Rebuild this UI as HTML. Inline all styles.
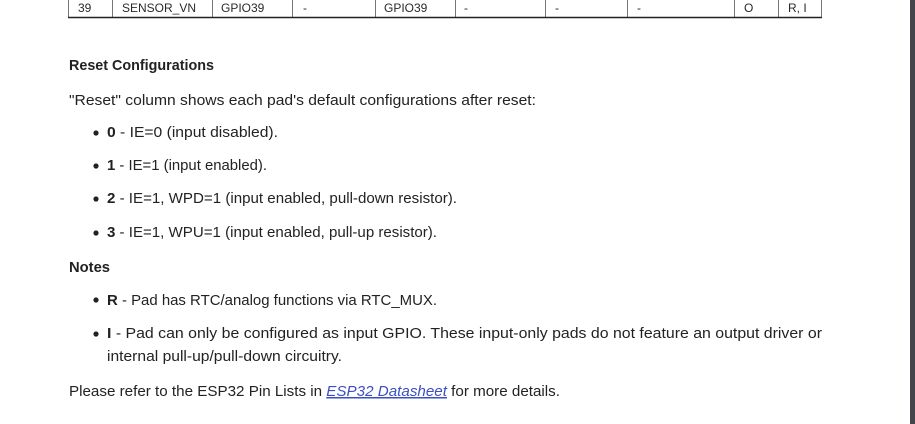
<!DOCTYPE html>
<html><head><meta charset="utf-8"><style>
html,body{margin:0;padding:0;background:#fff;width:915px;height:424px;overflow:hidden}
svg{display:block}
text{font-family:"Liberation Sans",sans-serif;fill:#222}
.t{font-size:15px}
.c{font-size:12px;fill:#2a2a2a}
.b{font-weight:bold}
</style></head><body>
<svg width="915" height="424" viewBox="0 0 915 424" xmlns="http://www.w3.org/2000/svg">
<rect x="0" y="0" width="910" height="424" fill="#fff"/>
<rect x="910" y="0" width="5" height="424" fill="#43474b"/>
<g stroke="#777" stroke-width="1">
<line x1="68.5" y1="0" x2="68.5" y2="17"/>
<line x1="112.5" y1="0" x2="112.5" y2="17"/>
<line x1="212.5" y1="0" x2="212.5" y2="17"/>
<line x1="292.5" y1="0" x2="292.5" y2="17"/>
<line x1="375.5" y1="0" x2="375.5" y2="17"/>
<line x1="455.5" y1="0" x2="455.5" y2="17"/>
<line x1="545.5" y1="0" x2="545.5" y2="17"/>
<line x1="627.5" y1="0" x2="627.5" y2="17"/>
<line x1="734.5" y1="0" x2="734.5" y2="17"/>
<line x1="778.5" y1="0" x2="778.5" y2="17"/>
<line x1="821.5" y1="0" x2="821.5" y2="17"/>
</g>
<line x1="68" y1="17.5" x2="822" y2="17.5" stroke="#222" stroke-width="1.5"/>
<text class="c" x="78" y="12">39</text>
<text class="c" x="122" y="12">SENSOR_VN</text>
<text class="c" x="221" y="12">GPIO39</text>
<text class="c" x="303" y="12">-</text>
<text class="c" x="384" y="12">GPIO39</text>
<text class="c" x="464" y="12">-</text>
<text class="c" x="555" y="12">-</text>
<text class="c" x="637" y="12">-</text>
<text class="c" x="744" y="12">O</text>
<text class="c" x="788" y="12">R, I</text>

<text class="t b" x="69" y="70" textLength="145" lengthAdjust="spacingAndGlyphs">Reset Configurations</text>
<text class="t" x="69" y="105" textLength="467" lengthAdjust="spacingAndGlyphs">"Reset" column shows each pad's default configurations after reset:</text>

<circle cx="96" cy="133" r="2.6" fill="#222"/>
<text class="t" x="107" y="137" textLength="171" lengthAdjust="spacingAndGlyphs"><tspan class="b">0</tspan> - IE=0 (input disabled).</text>
<circle cx="96" cy="166" r="2.6" fill="#222"/>
<text class="t" x="107" y="170" textLength="160" lengthAdjust="spacingAndGlyphs"><tspan class="b">1</tspan> - IE=1 (input enabled).</text>
<circle cx="96" cy="199" r="2.6" fill="#222"/>
<text class="t" x="107" y="203" textLength="350" lengthAdjust="spacingAndGlyphs"><tspan class="b">2</tspan> - IE=1, WPD=1 (input enabled, pull-down resistor).</text>
<circle cx="96" cy="233" r="2.6" fill="#222"/>
<text class="t" x="107" y="237" textLength="330" lengthAdjust="spacingAndGlyphs"><tspan class="b">3</tspan> - IE=1, WPU=1 (input enabled, pull-up resistor).</text>

<text class="t b" x="69" y="272" textLength="41" lengthAdjust="spacingAndGlyphs">Notes</text>
<circle cx="96" cy="300" r="2.6" fill="#222"/>
<text class="t" x="107" y="305" textLength="330" lengthAdjust="spacingAndGlyphs"><tspan class="b">R</tspan> - Pad has RTC/analog functions via RTC_MUX.</text>
<circle cx="96" cy="334" r="2.6" fill="#222"/>
<text class="t" x="107" y="338" textLength="715" lengthAdjust="spacingAndGlyphs"><tspan class="b">I</tspan> - Pad can only be configured as input GPIO. These input-only pads do not feature an output driver or</text>
<text class="t" x="107" y="361" textLength="235" lengthAdjust="spacingAndGlyphs">internal pull-up/pull-down circuitry.</text>

<text class="t" x="69" y="396" textLength="491" lengthAdjust="spacingAndGlyphs">Please refer to the ESP32 Pin Lists in <tspan fill="#3a4fc4" font-style="italic" text-decoration="underline">ESP32 Datasheet</tspan> for more details.</text>
</svg>
</body></html>
